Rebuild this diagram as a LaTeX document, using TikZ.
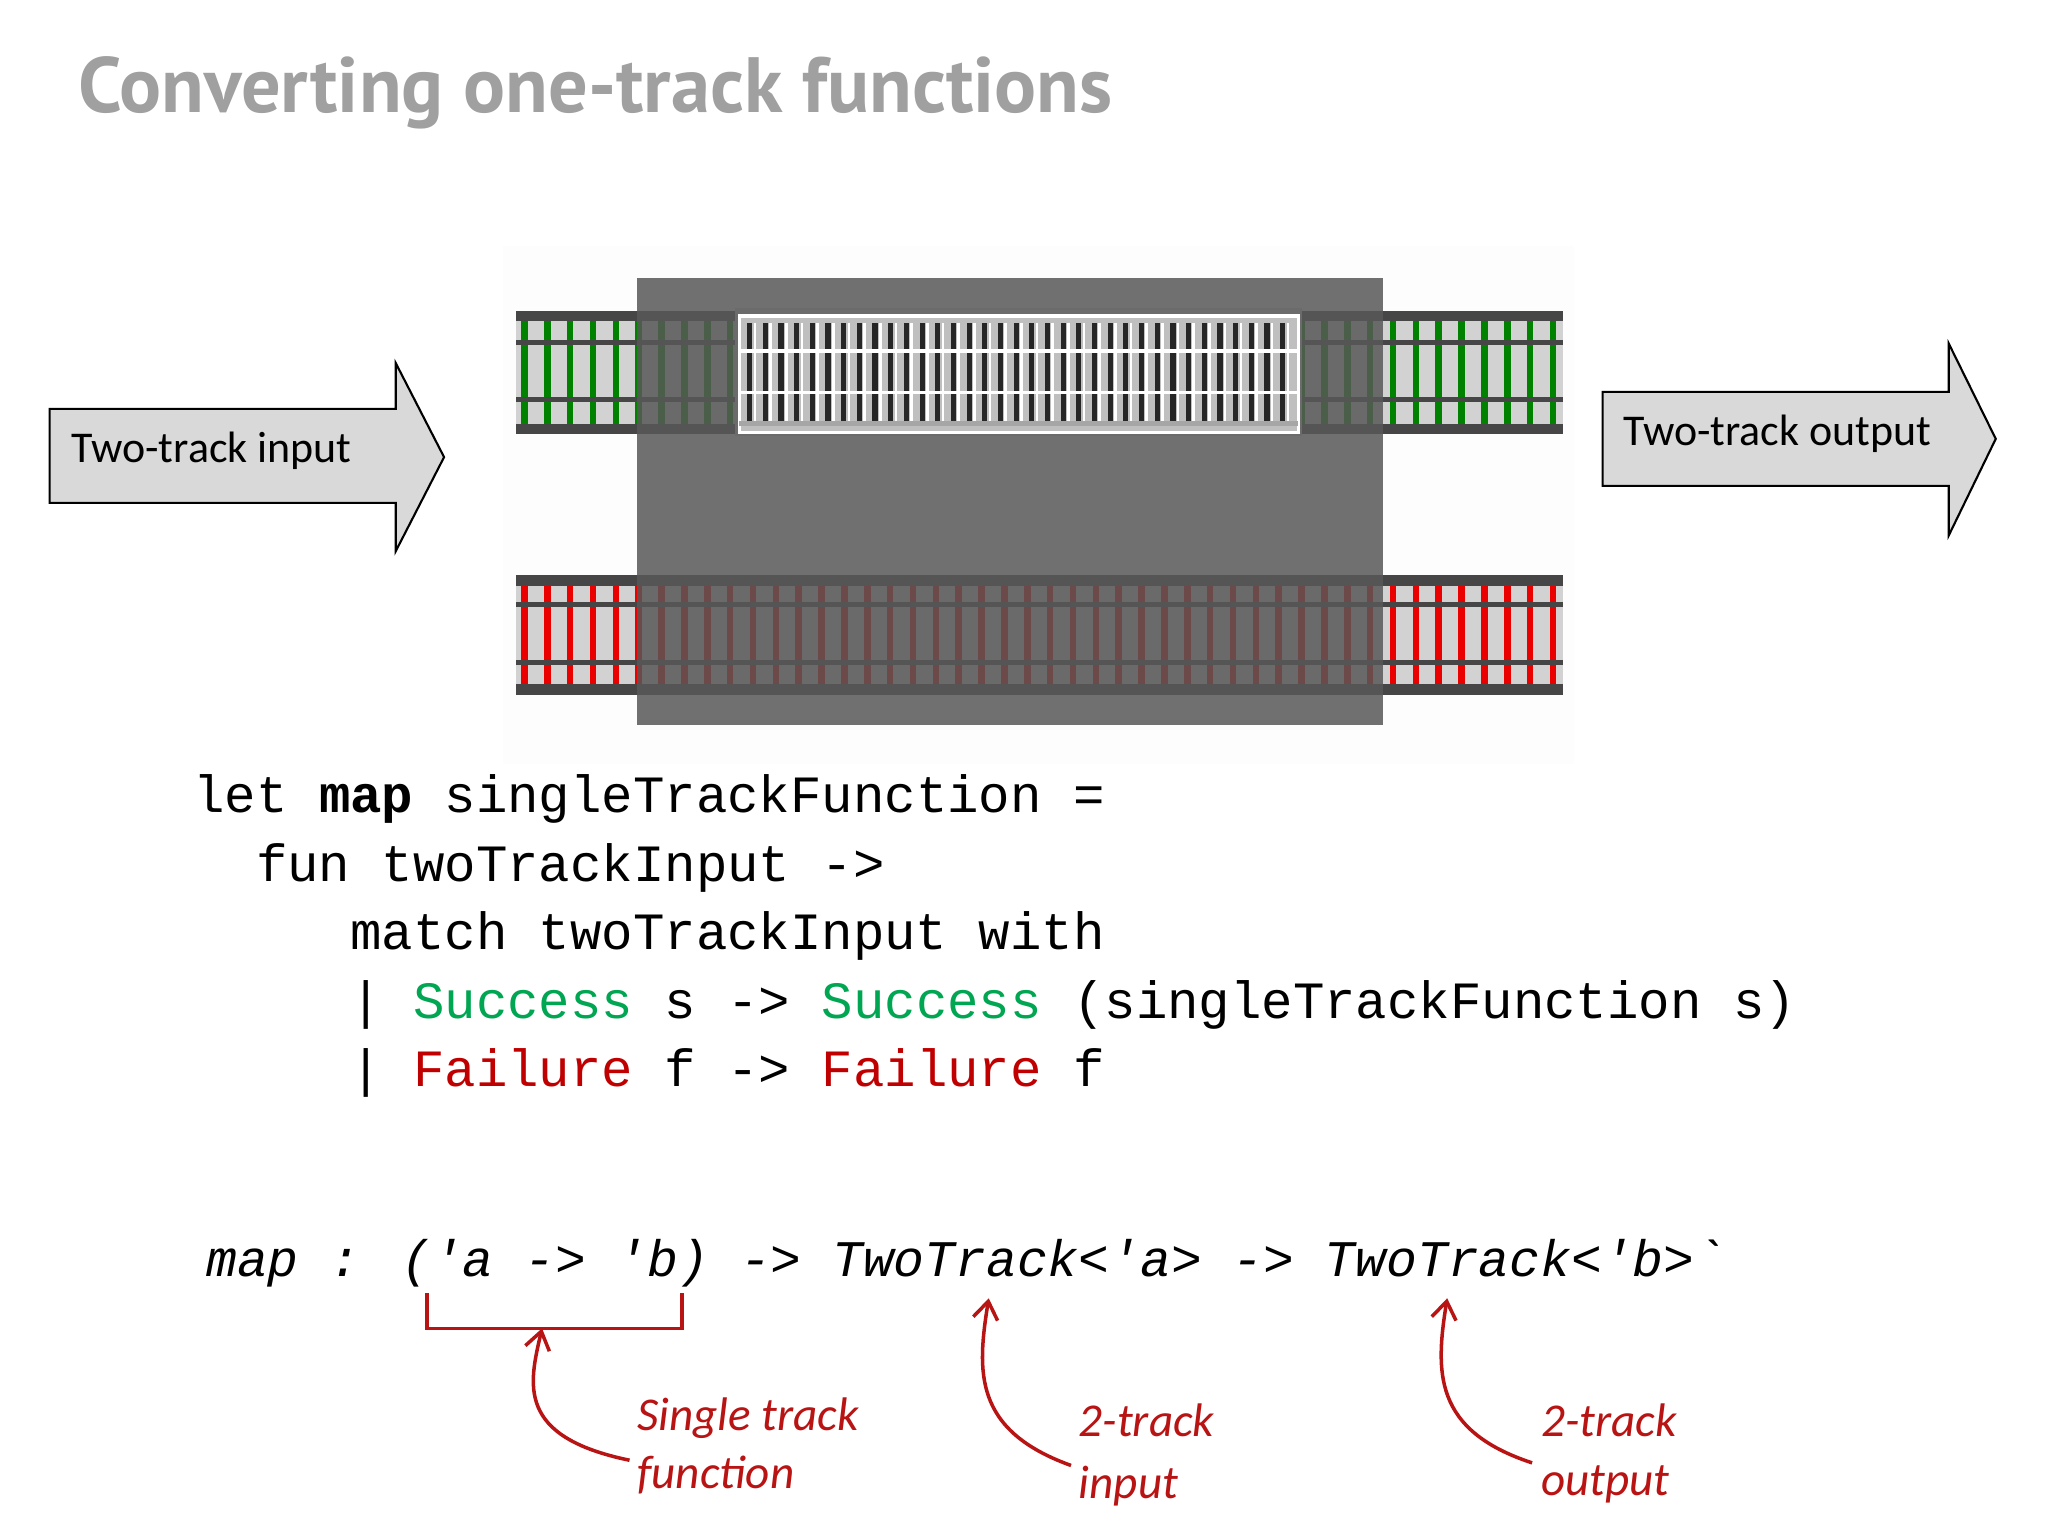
\documentclass[tikz,border=0pt]{standalone}
\usepackage{fontspec}
\setmainfont{Carlito}
\newfontfamily\titlefont{PT Sans}
\newfontfamily\codefont{Liberation Mono}
\newfontfamily\notefont{Carlito}
\definecolor{titlegray}{RGB}{160,160,160}
\definecolor{bandgray}{RGB}{70,70,70}
\definecolor{boxgray}{RGB}{88,88,88}
\definecolor{tiegreen}{RGB}{0,130,0}
\definecolor{tiered}{RGB}{235,0,0}
\definecolor{okgreen}{RGB}{0,166,81}
\definecolor{errred}{RGB}{192,0,0}
\definecolor{notered}{RGB}{185,20,20}
\definecolor{arrowfill}{RGB}{217,217,217}
\begin{document}
\begin{tikzpicture}[x=0.013061cm,y=-0.013061cm,
  txt/.style={anchor=base west,inner sep=0pt,outer sep=0pt},
  code/.style={txt,font=\codefont\fontsize{14.9}{16}\selectfont},
  note/.style={txt,text=notered,font=\notefont\itshape\fontsize{13.4}{15}\selectfont},
  bigarrow/.style={fill=arrowfill,draw=black,line width=0.6pt},
  notearrow/.style={draw=notered,line width=1pt,-{Straight Barb[length=5pt,width=7pt]}}]
\usetikzlibrary{arrows.meta}
\useasboundingbox (0,0) rectangle (1568,1176);
\fill[white] (0,0) rectangle (1568,1176);
% title
\node[txt,text=titlegray,font=\titlefont\bfseries\fontsize{22.3}{26}\selectfont] (title) at (60,86) {Converting one-track functions};
% picture background
\fill[gray!1.5] (385,188) rectangle (1205,585);
% top track
\fill[bandgray] (395,238) rectangle (1197,332);
\fill[gray!35] (395,246) rectangle (1197,325);
\foreach \x in {399,416.5,...,1195} \fill[tiegreen] (\x,246) rectangle ++(5,79);
\fill[bandgray] (395,260) rectangle (1197,264);
\fill[bandgray] (395,304) rectangle (1197,308);
% bottom track
\fill[bandgray] (395,440) rectangle (1197,532);
\fill[gray!35] (395,449) rectangle (1197,524);
\foreach \x in {399,416.5,...,1195} \fill[tiered] (\x,449) rectangle ++(5,75);
\fill[bandgray] (395,461) rectangle (1197,465);
\fill[bandgray] (395,505) rectangle (1197,509);
% gray box
\fill[boxgray,opacity=0.85] (488,213) rectangle (1059,555);
% inner single track
\fill[bandgray!80] (563,236) rectangle (997,334);
\fill[gray!50] (566,242) rectangle (994,331);
\draw[white,line width=1pt] (566,242) rectangle (994,331);
\foreach \x in {572,584,...,986} {
  \fill[black!85] (\x,247) rectangle ++(4,78);
  \fill[white] (\x+5,247) rectangle ++(2,78);
}
\fill[white] (566,267) rectangle (994,270);
\fill[white] (566,299) rectangle (994,302);
\fill[gray!70] (566,322) rectangle (994,326);
% arrows
\draw[bigarrow] (38,313) -- (303,313) -- (303,278) -- (340,350) -- (303,422) -- (303,385) -- (38,385) -- cycle;
\node[txt,font=\fontsize{12.5}{14}\selectfont] (inlbl) at (55,354) {Two-track input};
\draw[bigarrow] (1227,300) -- (1492,300) -- (1492,263) -- (1528,336) -- (1492,410) -- (1492,372) -- (1227,372) -- cycle;
\node[txt,font=\fontsize{12.5}{14}\selectfont] (outlbl) at (1243,341) {Two-track output};
% code
\node[code] (l1) at (148,622) {let \textbf{map} singleTrackFunction =};
\node[code] (l2) at (148,675) {\ \ fun twoTrackInput ->};
\node[code] (l3) at (148,727) {\ \ \ \ \ match twoTrackInput with};
\node[code] (l4) at (148,780) {\ \ \ \ \ | \textcolor{okgreen}{Success} s -> \textcolor{okgreen}{Success} (singleTrackFunction s)};
\node[code] (l5) at (148,832) {\ \ \ \ \ | \textcolor{errred}{Failure} f -> \textcolor{errred}{Failure} f};
% signature
\node[code,font=\codefont\itshape\fontsize{14.6}{16}\selectfont] (sig) at (158,977) {map : ('a -> 'b) -> TwoTrack<'a> -> TwoTrack<'b>`};
% annotations
\draw[notered,line width=1pt] (327,990) -- (327,1017) -- (522,1017) -- (522,990);
\coordinate (br) at (415,1017);
\coordinate (s1) at (482,1118);
\draw[notearrow] (s1) .. controls (395,1100) and (405,1060) .. (br);
\node[note] (n1a) at (488,1095) {Single track};
\node[note] (n1b) at (488,1140) {function};
\coordinate (t2) at (757,994);
\coordinate (s2) at (820,1122);
\draw[notearrow] (s2) .. controls (745,1095) and (748,1050) .. (t2);
\node[note] (n2a) at (826,1100) {2-track};
\node[note] (n2b) at (826,1147) {input};
\coordinate (t3) at (1108,994);
\coordinate (s3) at (1173,1120);
\draw[notearrow] (s3) .. controls (1097,1095) and (1099,1050) .. (t3);
\node[note] (n3a) at (1180,1100) {2-track};
\node[note] (n3b) at (1180,1145) {output};
\end{tikzpicture}
\end{document}
